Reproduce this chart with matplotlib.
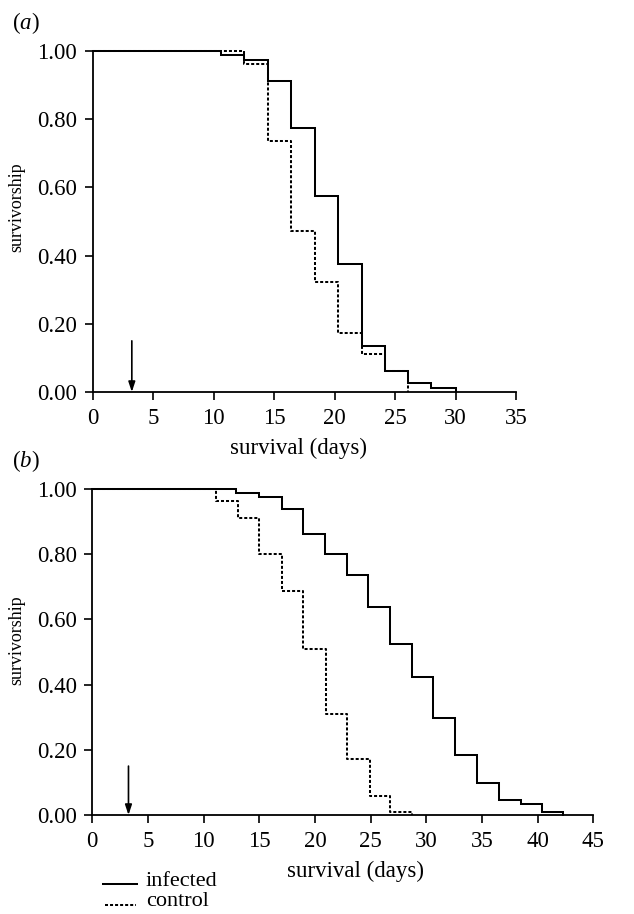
import matplotlib
matplotlib.use("Agg")
import matplotlib.pyplot as plt
from matplotlib.lines import Line2D

# ---- data ----
infected_a_t = [0, 10.6, 12.5, 14.5, 16.4, 18.4, 20.3, 22.3, 24.2, 26.1, 28.0, 30.0]
infected_a_s = [1.0, 0.988, 0.974, 0.911, 0.774, 0.575, 0.374, 0.136, 0.061, 0.025, 0.011, 0.0]
control_a_t = [0, 12.5, 14.5, 16.4, 18.4, 20.3, 22.3, 24.2, 26.1]
control_a_s = [1.0, 0.962, 0.737, 0.472, 0.322, 0.173, 0.112, 0.061, 0.0]

infected_b_t = [0, 12.9, 15.0, 17.0, 18.95, 20.9, 22.9, 24.8, 26.7, 28.7, 30.6, 32.6,
                34.55, 36.5, 38.5, 40.4, 42.3]
infected_b_s = [1.0, 0.989, 0.975, 0.938, 0.863, 0.800, 0.737, 0.638, 0.525, 0.423,
                0.299, 0.185, 0.098, 0.046, 0.034, 0.010, 0.0]
control_b_t = [0, 11.1, 13.05, 15.0, 17.0, 18.9, 21.0, 22.85, 24.9, 26.75, 28.7]
control_b_s = [1.0, 0.964, 0.912, 0.801, 0.686, 0.510, 0.310, 0.173, 0.059, 0.010, 0.0]

yticks = [0.0, 0.2, 0.4, 0.6, 0.8, 1.0]
ytick_labels = ["0.00", "0.20", "0.40", "0.60", "0.80", "1.00"]
xticks_a = [0, 5, 10, 15, 20, 25, 30, 35]
xticks_b = [0, 5, 10, 15, 20, 25, 30, 35, 40, 45]
arrow_day = 3.25
arrow_top = 0.15
xlabel = "survival (days)"
ylabel = "survivorship"
legend_labels = ["infected", "control"]

plt.rcParams["font.family"] = ["Liberation Serif", "DejaVu Serif"]
plt.rcParams["mathtext.fontset"] = "custom"
plt.rcParams["mathtext.it"] = "Liberation Serif:italic"
plt.rcParams["mathtext.rm"] = "Liberation Serif"

W, H = 634, 914
fig = plt.figure(figsize=(W / 100, H / 100), dpi=100)

def px_axes(left, right, top, bottom):
    return fig.add_axes([left / W, 1 - bottom / H, (right - left) / W, (bottom - top) / H])

ax_a = px_axes(92.5, 516, 51, 392)
ax_b = px_axes(92.3, 593.3, 489, 815)

LW = 1.45
DASH = (1.5, 1.0)
TICK_FS = 16.5

def style(ax, xticks, xmax):
    ax.set_xlim(0, xmax)
    ax.set_ylim(0, 1)
    for s in ["top", "right"]:
        ax.spines[s].set_visible(False)
    for s in ["left", "bottom"]:
        ax.spines[s].set_linewidth(1.3)
    ax.set_xticks(xticks)
    ax.set_xticklabels([str(v) for v in xticks])
    ax.set_yticks(yticks)
    ax.set_yticklabels(ytick_labels)
    ax.tick_params(direction="out", length=5.5, width=1.2, labelsize=TICK_FS)
    ax.tick_params(axis="x", pad=6)
    ax.tick_params(axis="y", pad=5.5)

def draw(ax, it, is_, ct, cs):
    ax.step(it, is_, where="post", color="black", lw=LW, clip_on=False, solid_joinstyle="miter")
    ax.step(ct, cs, where="post", color="black", lw=LW, dashes=DASH, clip_on=False)
    ax.annotate("", xy=(arrow_day, 0.0), xytext=(arrow_day, arrow_top),
                arrowprops=dict(arrowstyle="-|>,head_length=0.6,head_width=0.2",
                                color="black", lw=1.2, shrinkA=0, shrinkB=0))

style(ax_a, xticks_a, 35)
draw(ax_a, infected_a_t, infected_a_s, control_a_t, control_a_s)
style(ax_b, xticks_b, 45)
draw(ax_b, infected_b_t, infected_b_s, control_b_t, control_b_s)

ax_a.set_xlabel(xlabel, fontsize=TICK_FS)
ax_a.xaxis.set_label_coords(0.4876, -0.135)
ax_b.set_xlabel(xlabel, fontsize=TICK_FS)
ax_b.xaxis.set_label_coords(0.526, -0.14)

fig.text(17 / W, 1 - 207 / H, ylabel, rotation=90, ha="center", va="center", fontsize=13)
fig.text(17 / W, 1 - 640 / H, ylabel, rotation=90, ha="center", va="center", fontsize=13)

fig.text(12 / W, 1 - 23 / H, r"($\mathit{a}$)", ha="left", va="center", fontsize=TICK_FS)
fig.text(12 / W, 1 - 461 / H, r"($\mathit{b}$)", ha="left", va="center", fontsize=TICK_FS)

# legend
fig.add_artist(Line2D([103 / W, 137 / W], [1 - 884 / H, 1 - 884 / H], color="black", lw=LW))
fig.add_artist(Line2D([105 / W, 136 / W], [1 - 905 / H, 1 - 905 / H], color="black", lw=LW,
                      dashes=DASH))
fig.text(146 / W, 1 - 882 / H, legend_labels[0], ha="left", va="center", fontsize=16)
fig.text(146 / W, 1 - 902 / H, legend_labels[1], ha="left", va="center", fontsize=16)

fig.savefig("out.png", dpi=100)
